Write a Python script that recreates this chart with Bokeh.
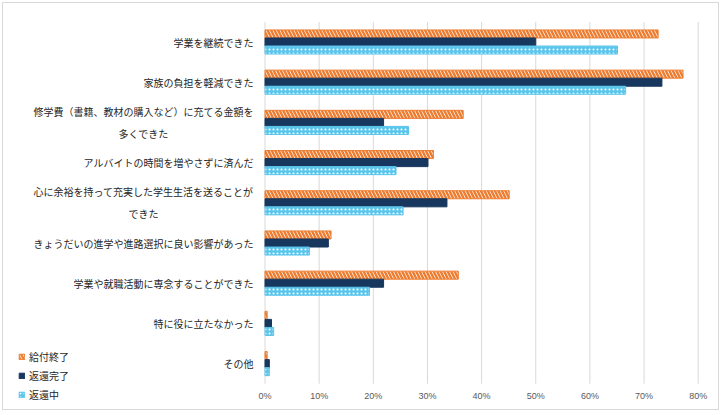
from bokeh.plotting import figure
from bokeh.models import ColumnDataSource, Range1d, Legend, LegendItem
from bokeh.core.properties import value
from bokeh.embed import file_html
from bokeh.resources import INLINE

categories = [
    "学業を継続できた",
    "家族の負担を軽減できた",
    "修学費（書籍、教材の購入など）に充てる金額を\n多くできた",
    "アルバイトの時間を増やさずに済んだ",
    "心に余裕を持って充実した学生生活を送ることが\nできた",
    "きょうだいの進学や進路選択に良い影響があった",
    "学業や就職活動に専念することができた",
    "特に役に立たなかった",
    "その他",
]
series_names = ["給付終了", "返還完了", "返還中"]
kyufu_shuryo = [0.726, 0.772, 0.366, 0.311, 0.451, 0.122, 0.357, 0.004, 0.004]
henkan_kanryo = [0.500, 0.733, 0.219, 0.301, 0.336, 0.117, 0.219, 0.012, 0.008]
henkan_chu = [0.651, 0.666, 0.265, 0.242, 0.255, 0.082, 0.193, 0.016, 0.008]
x_ticks = [0, 0.1, 0.2, 0.3, 0.4, 0.5, 0.6, 0.7, 0.8]
x_tick_labels = ["0%", "10%", "20%", "30%", "40%", "50%", "60%", "70%", "80%"]

FONT = "Noto Sans CJK JP"
n = len(categories)
ypos = [n - 1 - i for i in range(n)]          # first category on top

W, H = 717, 408
PX_X = 541.5      # pixels per unit on x
PX_Y = 40.2       # pixels per category
X0 = 261.5        # canvas x of 0%
Y_TOP = 38.5      # canvas y of first category centre

p = figure(
    width=W, height=H,
    x_range=Range1d(-X0 / PX_X, (W - X0) / PX_X),
    y_range=Range1d((n - 1) - (H - Y_TOP) / PX_Y, (n - 1) + Y_TOP / PX_Y),
    output_backend="svg", toolbar_location=None,
    min_border=0, x_axis_type=None, y_axis_type=None,
)
p.styles = {"border": "1px solid #d9d9d9", "margin": "2px 0 0 2px"}
p.outline_line_color = None
p.xgrid.visible = False
p.ygrid.visible = False

# grid lines over the category band
grid = ColumnDataSource(dict(x=x_ticks, lab=x_tick_labels,
                             y0=[-0.5] * len(x_ticks), y1=[n - 0.5] * len(x_ticks),
                             yl=[-0.5 - 0.3] * len(x_ticks)))
p.segment(x0="x", y0="y0", x1="x", y1="y1", source=grid, line_color="#d9d9d9", line_width=1)
p.text(x="x", y="yl", text="lab", source=grid, text_align="center", text_baseline="middle",
       text_font=value("Liberation Sans"), text_font_size="9px", text_color="#595959")

src = ColumnDataSource(dict(y=ypos, a=kyufu_shuryo, b=henkan_kanryo, c=henkan_chu,
                            ya=[v + 0.2 for v in ypos], yc=[v - 0.2 for v in ypos]))

r1 = p.hbar(y="ya", right="a", left=0, height=0.2, source=src,
            fill_color="white", line_color="#ed7d31", line_width=1,
            hatch_pattern="\\", hatch_color="#ed7d31", hatch_scale=7, hatch_weight=2.5)
r2 = p.hbar(y="y", right="b", left=0, height=0.2, source=src,
            fill_color="#17375e", line_color="#17375e", line_width=1)
r3 = p.hbar(y="yc", right="c", left=0, height=0.2, source=src,
            fill_color="#5bc5eb", line_color="#5bc5eb", line_width=1,
            hatch_pattern="dot", hatch_color="white", hatch_scale=4, hatch_weight=1.5)

# category labels
FS = 10
label_right = -11.5 / PX_X
single = dict(x=[], y=[], t=[])
first = dict(x=[], y=[], t=[])
second = dict(x=[], y=[], t=[])
for cat, yv in zip(categories, ypos):
    lines = cat.split("\n")
    if len(lines) == 1:
        single["x"].append(label_right); single["y"].append(yv); single["t"].append(cat)
    else:
        first["x"].append(label_right); first["y"].append(yv + 11 / PX_Y); first["t"].append(lines[0])
        centre = label_right - (len(lines[0]) * FS / 2) / PX_X
        second["x"].append(centre); second["y"].append(yv - 11 / PX_Y); second["t"].append(lines[1])

common = dict(text_baseline="middle", text_font=value(FONT), text_font_size=f"{FS}px",
              text_color="#262626")
p.text(x="x", y="y", text="t", source=ColumnDataSource(single), text_align="right", **common)
p.text(x="x", y="y", text="t", source=ColumnDataSource(first), text_align="right", **common)
p.text(x="x", y="y", text="t", source=ColumnDataSource(second), text_align="center", **common)

legend = Legend(
    items=[LegendItem(label=series_names[0], renderers=[r1]),
           LegendItem(label=series_names[1], renderers=[r2]),
           LegendItem(label=series_names[2], renderers=[r3])],
    location=(15, 9),
    label_text_font=FONT, label_text_font_size="10px", label_text_color="#262626",
    glyph_width=7, glyph_height=7, label_height=12, spacing=4, padding=0, margin=0,
    label_standoff=4, border_line_color=None, background_fill_alpha=0,
)
p.add_layout(legend)

open("out.html", "w").write(file_html(p, INLINE))
